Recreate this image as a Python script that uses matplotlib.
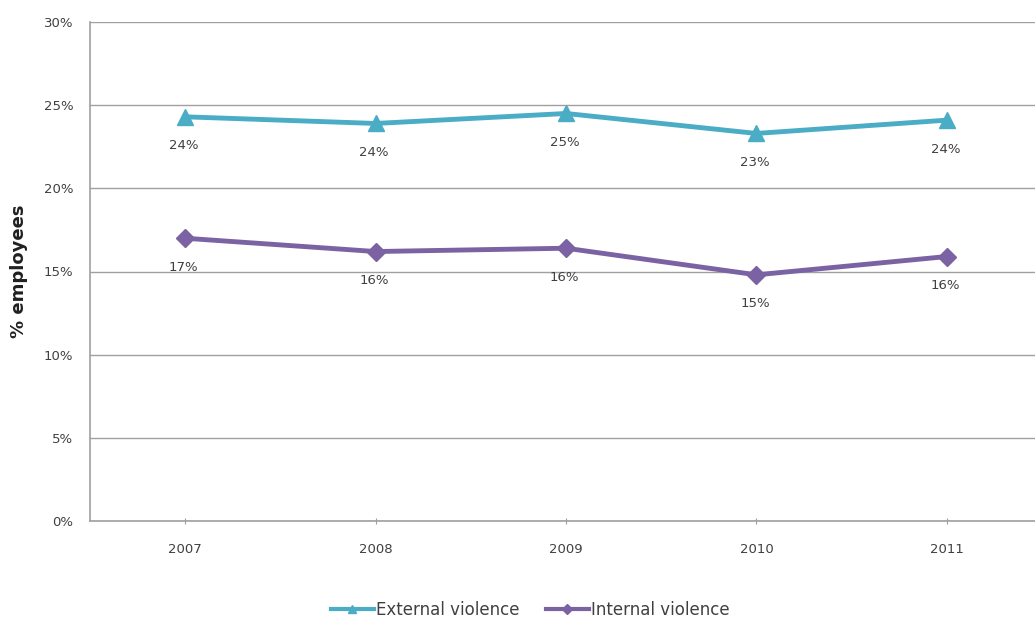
import matplotlib
matplotlib.use("Agg")
import matplotlib.pyplot as plt
from matplotlib.lines import Line2D

years = ["2007", "2008", "2009", "2010", "2011"]
external = [24.3, 23.9, 24.5, 23.3, 24.1]
internal = [17.0, 16.2, 16.4, 14.8, 15.9]
external_labels = ["24%", "24%", "25%", "23%", "24%"]
internal_labels = ["17%", "16%", "16%", "15%", "16%"]
yticks = [0, 5, 10, 15, 20, 25, 30]

fig = plt.figure(figsize=(10.35, 6.25), dpi=100)
W, H = 1035, 625
left, right, top, bottom = 90, 1042, 22, 521
ax = fig.add_axes([left / W, 1 - bottom / H, (right - left) / W, (bottom - top) / H])

x = list(range(len(years)))
c_ext = "#4BACC6"
c_int = "#7B62A3"
ax.plot(x, external, color=c_ext, lw=3.5, marker="^", ms=11, label="External violence", zorder=3)
ax.plot(x, internal, color=c_int, lw=3.5, marker="D", ms=9, label="Internal violence", zorder=3)

for xi, v, t in zip(x, external, external_labels):
    ax.annotate(t, (xi, v), xytext=(-1, -21), textcoords="offset points",
                ha="center", va="center", fontsize=9.5, color="#404040")
for xi, v, t in zip(x, internal, internal_labels):
    ax.annotate(t, (xi, v), xytext=(-1, -21), textcoords="offset points",
                ha="center", va="center", fontsize=9.5, color="#404040")

ax.set_xlim(-0.5, 4.5)
ax.set_ylim(0, 30)
ax.set_yticks(yticks)
ax.set_yticklabels([f"{t}%" for t in yticks], fontsize=9.5, color="#404040")
ax.set_xticks(x)
ax.set_xticklabels(years, fontsize=9.5, color="#404040")
ax.grid(axis="y", color="#A0A0A0", lw=1)
ax.set_axisbelow(True)
for s in ["top", "right"]:
    ax.spines[s].set_visible(False)
for s in ["left", "bottom"]:
    ax.spines[s].set_color("#A0A0A0")
    ax.spines[s].set_linewidth(1.2)
ax.tick_params(axis="y", length=0, pad=12)
ax.tick_params(axis="x", length=4, direction="inout", color="#A0A0A0", pad=14)
ax.set_ylabel("% employees", fontsize=13, fontweight="bold", color="#202020")
ax.yaxis.set_label_coords(-(left - 28) / (right - left), 0.5)

handles = [
    Line2D([], [], color=c_ext, lw=3, marker="^", ms=6),
    Line2D([], [], color=c_int, lw=3, marker="D", ms=5),
]
fig.legend(handles, ["External violence", "Internal violence"], loc="center",
           bbox_to_anchor=(530 / W, 1 - 610 / H), ncol=2, frameon=False,
           fontsize=12, handlelength=2.6, handletextpad=0.1, columnspacing=1.6,
           labelcolor="#404040")

fig.savefig("out.png", dpi=100, facecolor="white")
